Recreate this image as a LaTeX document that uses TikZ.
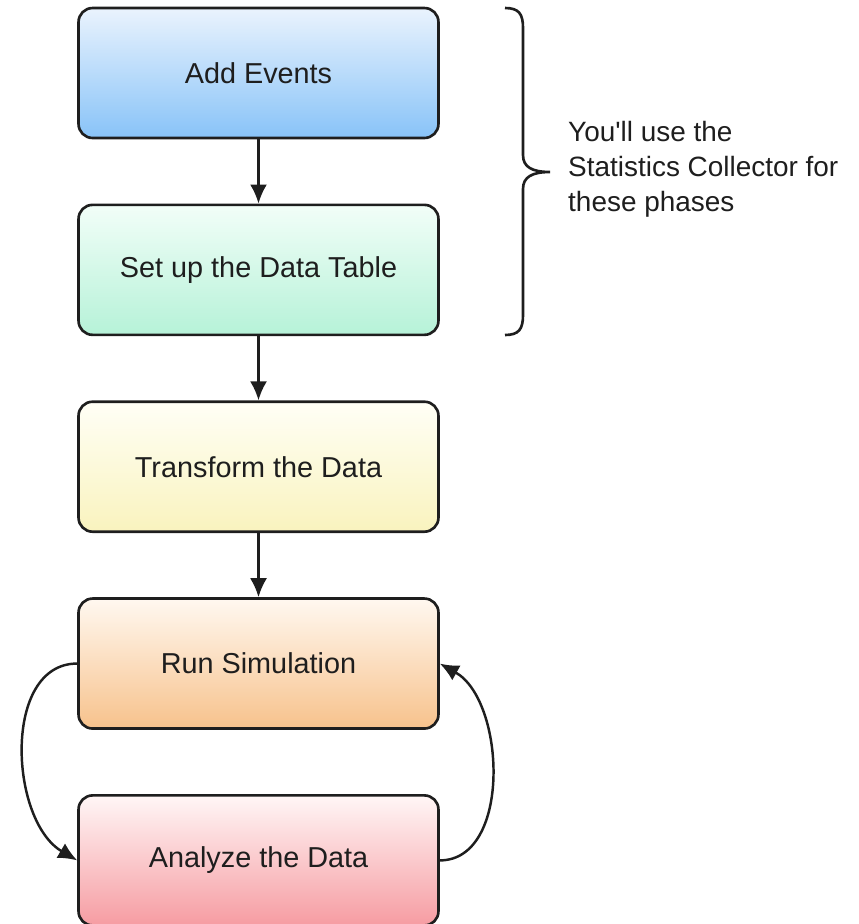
\documentclass[tikz,border=0pt]{standalone}
\usepackage{fontspec}
\setmainfont{Liberation Sans}
\usetikzlibrary{positioning,arrows.meta}
\definecolor{blueTop}{HTML}{EAF3FD}
\definecolor{blueBot}{HTML}{88C3F8}
\definecolor{greenTop}{HTML}{F2FEF8}
\definecolor{greenBot}{HTML}{B6F2D8}
\definecolor{yellowTop}{HTML}{FFFFF6}
\definecolor{yellowBot}{HTML}{F9F3BE}
\definecolor{orangeTop}{HTML}{FFF8F0}
\definecolor{orangeBot}{HTML}{F7C28C}
\definecolor{redTop}{HTML}{FFF6F6}
\definecolor{redBot}{HTML}{F69CA2}
\definecolor{inkGrey}{HTML}{1E1E1E}
\tikzset{
  phase/.style={draw=inkGrey, line width=1.5pt, rounded corners=8pt,
    minimum width=7.2cm, minimum height=2.6cm, text=inkGrey,
    font=\fontsize{16.4}{19.7}\selectfont},
  flow/.style={draw=inkGrey, line width=1.4pt, -{Latex[length=3.8mm,width=3.4mm]}}
}
\begin{document}
\begin{tikzpicture}[x=0.02cm, y=-0.02cm]
        \useasboundingbox (0,0) rectangle (859,924);
        \node[phase, top color=blueTop, bottom color=blueBot] (add) at (258.5,73) {Add Events};
        \node[phase, top color=greenTop, bottom color=greenBot, below=1.285cm of add] (table) {Set up the Data Table};
        \node[phase, top color=yellowTop, bottom color=yellowBot, below=1.285cm of table] (trans) {Transform the Data};
        \node[phase, top color=orangeTop, bottom color=orangeBot, below=1.285cm of trans] (run) {Run Simulation};
        \node[phase, top color=redTop, bottom color=redBot, below=1.285cm of run] (ana) {Analyze the Data};
        \draw[flow] (add) -- (table);
        \draw[flow] (table) -- (trans);
        \draw[flow] (trans) -- (run);
        \draw[flow] (run.west) .. controls +(-75,0) and +(-68,-40) .. (ana.west);
        \draw[flow] (ana.east) .. controls +(72,0) and +(66,37) .. (run.east);
        % brace over the first two phases
        \draw[line width=1.5pt, draw=inkGrey] (505,8) .. controls (519,8) and (523,14) .. (523,28) -- (523,155)
            .. controls (523,167) and (532,172) .. (550,172) .. controls (532,172) and (523,177) .. (523,189)
            -- (523,315) .. controls (523,329) and (519,335) .. (505,335);
        \node[anchor=west, align=left, text=inkGrey, font=\fontsize{15.9}{19.8}\selectfont] (note) at (562,169)
            {You\textquotesingle ll use the\\Statistics Collector for\\these phases};
    \end{tikzpicture}
\end{document}
